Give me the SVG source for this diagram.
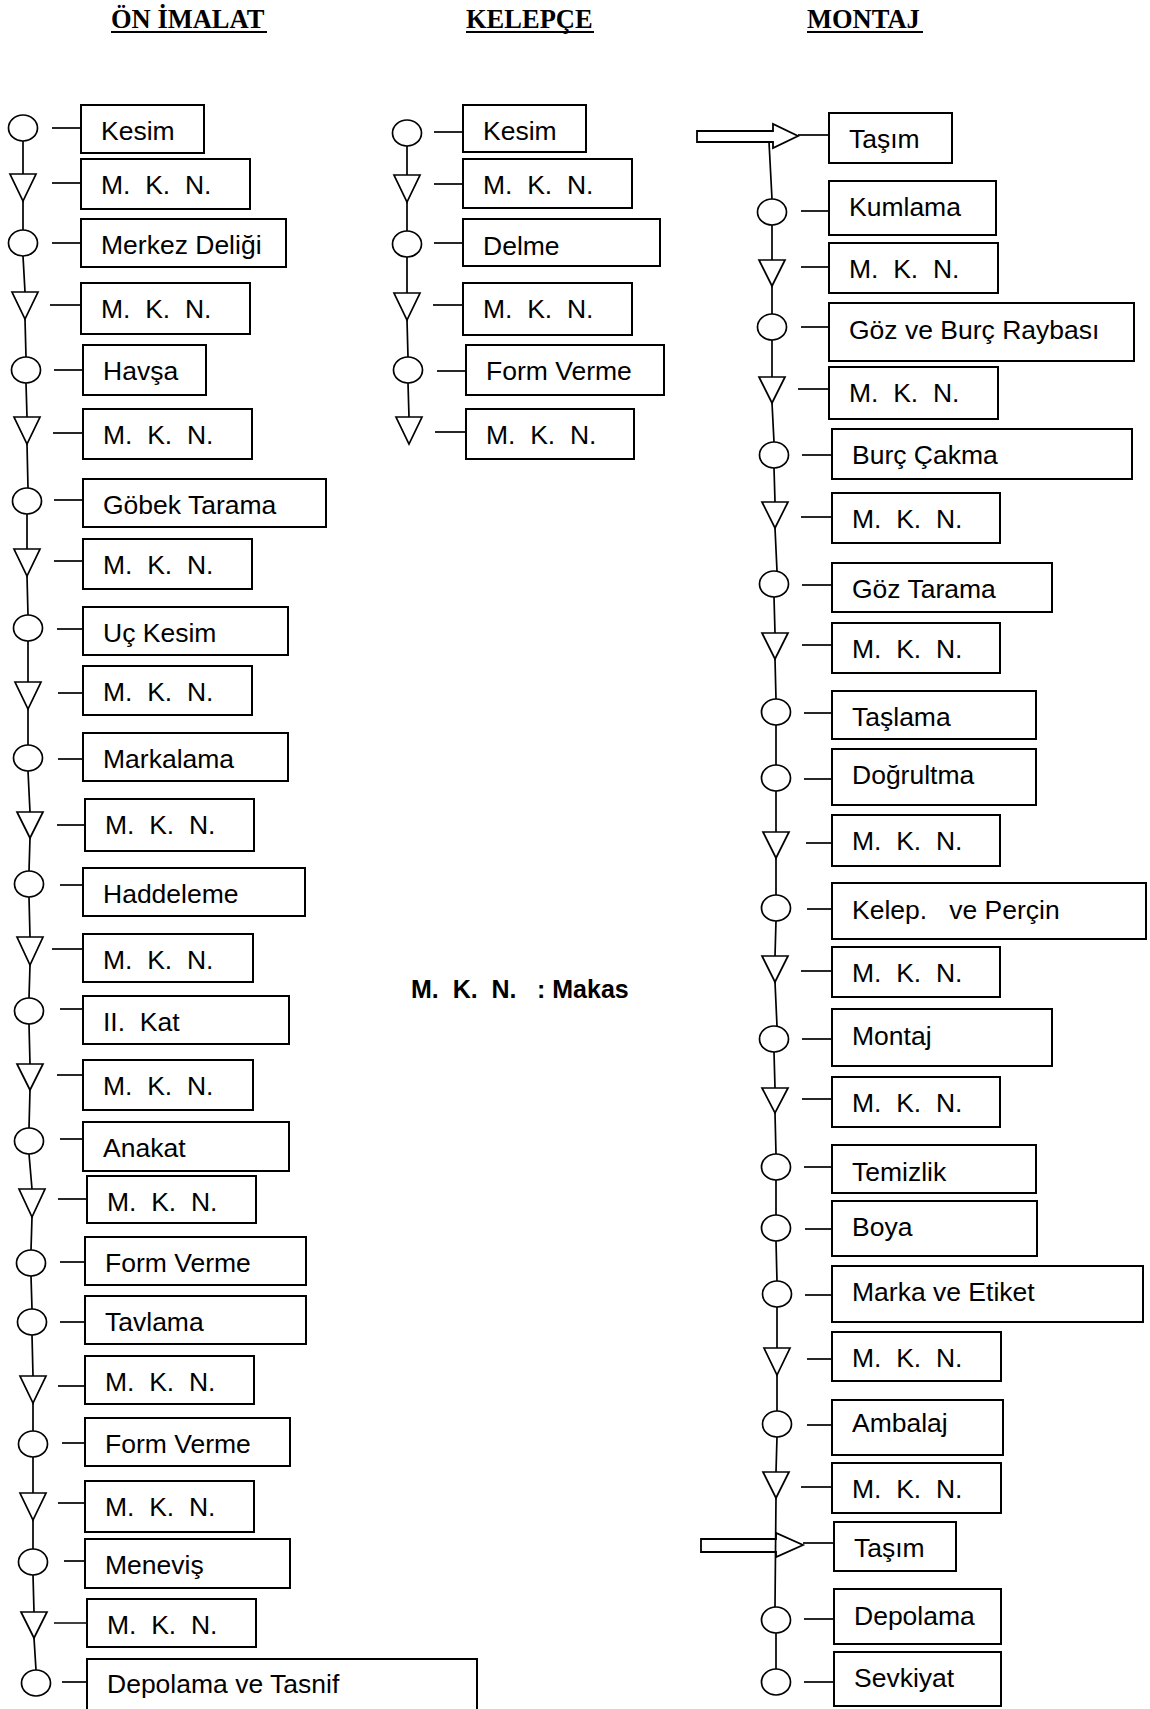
<svg xmlns="http://www.w3.org/2000/svg" width="1150" height="1709" viewBox="0 0 1150 1709">
  <style>
    .bg { fill: #ffffff; }
    .box { fill: #ffffff; stroke: #000000; stroke-width: 2; }
    .op { fill: #ffffff; stroke: #000000; stroke-width: 1.7; }
    .ln { fill: none; stroke: #000000; stroke-width: 1.7; }
    .arr { fill: none; stroke: #000000; stroke-width: 1.8; }
    .lbl { font-family: "Liberation Sans", Arial, sans-serif; font-size: 26.5px; fill: #000000; white-space: pre; }
    .head { font-family: "Liberation Serif", "Times New Roman", serif; font-size: 26.5px; font-weight: bold; fill: #000000; }
    .note { font-family: "Liberation Sans", Arial, sans-serif; font-size: 25px; font-weight: bold; fill: #000000; white-space: pre; }
    .ul { stroke: #000000; stroke-width: 2; }
  </style>
  <rect class="bg" x="0" y="0" width="1150" height="1709"/>

  <!-- column headings -->
  <g id="headings">
    <text class="head" x="111" y="28">ÖN İMALAT</text>
    <line class="ul" x1="111" y1="32" x2="267" y2="32"/>
    <text class="head" x="466" y="28">KELEPÇE</text>
    <line class="ul" x1="466" y1="32" x2="594" y2="32"/>
    <text class="head" x="807" y="28">MONTAJ</text>
    <line class="ul" x1="807" y1="32" x2="923" y2="32"/>
  </g>

  <!-- vertical flow lines -->
  <g id="connectors">
    <path class="ln" d="M23 141 L23 174 M23 201 L23 230 M23 256 L25 292 M25 319 L26 357 M26 383 L27 417 M27 444 L28 488 M27 514 L27 549 M27 576 L28 615 M28 641 L28 682 M28 709 L28 745 M28 771 L30 812 M30 838 L29 871 M29 897 L30 937 M30 965 L29 998 M29 1024 L30 1064 M30 1090 L29 1128 M29 1154 L32 1189 M32 1217 L31 1250 M31 1276 L32 1309 M32 1335 L33 1376 M33 1403 L33 1431 M33 1457 L33 1493 M33 1520 L33 1549 M33 1575 L34 1612 M34 1638 L36 1670"/>
    <path class="ln" d="M407 146 L407 175 M407 202 L407 231 M407 257 L407 293 M407 320 L408 357 M408 383 L409 417"/>
    <path class="ln" d="M769 142 L772 199 M772 225 L772 260 M772 286 L772 314 M772 340 L772 377 M772 403 L774 442 M774 468 L775 502 M775 528 L777 571 M774 597 L775 633 M775 659 L776 699 M776 725 L776 765 M776 791 L776 832 M776 858 L776 895 M776 921 L775 956 M775 982 L777 1026 M774 1052 L775 1088 M775 1113 L776 1154 M776 1180 L776 1215 M776 1241 L777 1281 M777 1307 L777 1348 M777 1375 L777 1411 M777 1437 L776 1472 M776 1498 L775 1607 M776 1633 L776 1669"/>
  </g>

  <!-- ÖN İMALAT -->
  <g id="on-kesim"><ellipse class="op" cx="23" cy="128" rx="14.5" ry="13"/><line class="ln" x1="52" y1="128" x2="81" y2="128"/><rect class="box" x="81" y="105" width="123" height="48"/><text class="lbl" x="101" y="140">Kesim</text></g>
  <g id="on-mkn-1"><polygon class="op" points="10,174 36,174 23,201"/><line class="ln" x1="52" y1="183" x2="81" y2="183"/><rect class="box" x="81" y="159" width="169" height="50"/><text class="lbl" x="101" y="194">M.  K.  N.</text></g>
  <g id="on-merkez"><ellipse class="op" cx="23" cy="243" rx="14.5" ry="13"/><line class="ln" x1="52" y1="243" x2="81" y2="243"/><rect class="box" x="81" y="219" width="205" height="48"/><text class="lbl" x="101" y="254">Merkez Deliği</text></g>
  <g id="on-mkn-2"><polygon class="op" points="12,292 38,292 25,319"/><line class="ln" x1="50" y1="305" x2="81" y2="305"/><rect class="box" x="81" y="283" width="169" height="51"/><text class="lbl" x="101" y="318">M.  K.  N.</text></g>
  <g id="on-havsa"><ellipse class="op" cx="26" cy="370" rx="14.5" ry="13"/><line class="ln" x1="54" y1="370" x2="83" y2="370"/><rect class="box" x="83" y="345" width="123" height="50"/><text class="lbl" x="103" y="380">Havşa</text></g>
  <g id="on-mkn-3"><polygon class="op" points="14,417 40,417 27,444"/><line class="ln" x1="53" y1="433" x2="83" y2="433"/><rect class="box" x="83" y="409" width="169" height="50"/><text class="lbl" x="103" y="444">M.  K.  N.</text></g>
  <g id="on-gobek"><ellipse class="op" cx="27" cy="501" rx="14.5" ry="13"/><line class="ln" x1="54" y1="500" x2="83" y2="500"/><rect class="box" x="83" y="479" width="243" height="48"/><text class="lbl" x="103" y="514">Göbek Tarama</text></g>
  <g id="on-mkn-4"><polygon class="op" points="14,549 40,549 27,576"/><line class="ln" x1="54" y1="561" x2="83" y2="561"/><rect class="box" x="83" y="539" width="169" height="50"/><text class="lbl" x="103" y="574">M.  K.  N.</text></g>
  <g id="on-uc-kesim"><ellipse class="op" cx="28" cy="628" rx="14.5" ry="13"/><line class="ln" x1="57" y1="629" x2="83" y2="629"/><rect class="box" x="83" y="607" width="205" height="48"/><text class="lbl" x="103" y="642">Uç Kesim</text></g>
  <g id="on-mkn-5"><polygon class="op" points="15,682 41,682 28,709"/><line class="ln" x1="58" y1="693" x2="83" y2="693"/><rect class="box" x="83" y="666" width="169" height="49"/><text class="lbl" x="103" y="701">M.  K.  N.</text></g>
  <g id="on-markalama"><ellipse class="op" cx="28" cy="758" rx="14.5" ry="13"/><line class="ln" x1="58" y1="759" x2="83" y2="759"/><rect class="box" x="83" y="733" width="205" height="48"/><text class="lbl" x="103" y="768">Markalama</text></g>
  <g id="on-mkn-6"><polygon class="op" points="17,812 43,812 30,838"/><line class="ln" x1="57" y1="825" x2="85" y2="825"/><rect class="box" x="85" y="799" width="169" height="52"/><text class="lbl" x="105" y="834">M.  K.  N.</text></g>
  <g id="on-haddeleme"><ellipse class="op" cx="29" cy="884" rx="14.5" ry="13"/><line class="ln" x1="60" y1="885" x2="83" y2="885"/><rect class="box" x="83" y="868" width="222" height="48"/><text class="lbl" x="103" y="903">Haddeleme</text></g>
  <g id="on-mkn-7"><polygon class="op" points="17,937 43,937 30,965"/><line class="ln" x1="52" y1="949" x2="83" y2="949"/><rect class="box" x="83" y="934" width="170" height="48"/><text class="lbl" x="103" y="969">M.  K.  N.</text></g>
  <g id="on-ii-kat"><ellipse class="op" cx="29" cy="1011" rx="14.5" ry="13"/><line class="ln" x1="60" y1="1009" x2="83" y2="1009"/><rect class="box" x="83" y="996" width="206" height="48"/><text class="lbl" x="103" y="1031">II.  Kat</text></g>
  <g id="on-mkn-8"><polygon class="op" points="17,1064 43,1064 30,1090"/><line class="ln" x1="57" y1="1075" x2="83" y2="1075"/><rect class="box" x="83" y="1060" width="170" height="50"/><text class="lbl" x="103" y="1095">M.  K.  N.</text></g>
  <g id="on-anakat"><ellipse class="op" cx="29" cy="1141" rx="14.5" ry="13"/><line class="ln" x1="60" y1="1139" x2="83" y2="1139"/><rect class="box" x="83" y="1122" width="206" height="49"/><text class="lbl" x="103" y="1157">Anakat</text></g>
  <g id="on-mkn-9"><polygon class="op" points="19,1189 45,1189 32,1217"/><line class="ln" x1="58" y1="1199" x2="87" y2="1199"/><rect class="box" x="87" y="1176" width="169" height="47"/><text class="lbl" x="107" y="1211">M.  K.  N.</text></g>
  <g id="on-form-1"><ellipse class="op" cx="31" cy="1263" rx="14.5" ry="13"/><line class="ln" x1="60" y1="1262" x2="85" y2="1262"/><rect class="box" x="85" y="1237" width="221" height="48"/><text class="lbl" x="105" y="1272">Form Verme</text></g>
  <g id="on-tavlama"><ellipse class="op" cx="32" cy="1322" rx="14.5" ry="13"/><line class="ln" x1="60" y1="1322" x2="85" y2="1322"/><rect class="box" x="85" y="1296" width="221" height="48"/><text class="lbl" x="105" y="1331">Tavlama</text></g>
  <g id="on-mkn-10"><polygon class="op" points="20,1376 46,1376 33,1403"/><line class="ln" x1="58" y1="1386" x2="85" y2="1386"/><rect class="box" x="85" y="1356" width="169" height="48"/><text class="lbl" x="105" y="1391">M.  K.  N.</text></g>
  <g id="on-form-2"><ellipse class="op" cx="33" cy="1444" rx="14.5" ry="13"/><line class="ln" x1="62" y1="1443" x2="85" y2="1443"/><rect class="box" x="85" y="1418" width="205" height="48"/><text class="lbl" x="105" y="1453">Form Verme</text></g>
  <g id="on-mkn-11"><polygon class="op" points="20,1493 46,1493 33,1520"/><line class="ln" x1="58" y1="1503" x2="85" y2="1503"/><rect class="box" x="85" y="1481" width="169" height="51"/><text class="lbl" x="105" y="1516">M.  K.  N.</text></g>
  <g id="on-menevis"><ellipse class="op" cx="33" cy="1562" rx="14.5" ry="13"/><line class="ln" x1="64" y1="1561" x2="85" y2="1561"/><rect class="box" x="85" y="1539" width="205" height="49"/><text class="lbl" x="105" y="1574">Meneviş</text></g>
  <g id="on-mkn-12"><polygon class="op" points="21,1612 47,1612 34,1638"/><line class="ln" x1="54" y1="1623" x2="87" y2="1623"/><rect class="box" x="87" y="1599" width="169" height="48"/><text class="lbl" x="107" y="1634">M.  K.  N.</text></g>
  <g id="on-depolama"><ellipse class="op" cx="36" cy="1683" rx="14.5" ry="13"/><line class="ln" x1="62" y1="1682" x2="87" y2="1682"/><rect class="box" x="87" y="1659" width="390" height="62"/><text class="lbl" x="107" y="1693">Depolama ve Tasnif</text></g>

  <!-- KELEPÇE -->
  <g id="kl-kesim"><ellipse class="op" cx="407" cy="133" rx="14.5" ry="13"/><line class="ln" x1="434" y1="132" x2="463" y2="132"/><rect class="box" x="463" y="105" width="123" height="47"/><text class="lbl" x="483" y="140">Kesim</text></g>
  <g id="kl-mkn-1"><polygon class="op" points="394,175 420,175 407,202"/><line class="ln" x1="434" y1="184" x2="463" y2="184"/><rect class="box" x="463" y="159" width="169" height="49"/><text class="lbl" x="483" y="194">M.  K.  N.</text></g>
  <g id="kl-delme"><ellipse class="op" cx="407" cy="244" rx="14.5" ry="13"/><line class="ln" x1="434" y1="243" x2="463" y2="243"/><rect class="box" x="463" y="219" width="197" height="47"/><text class="lbl" x="483" y="255">Delme</text></g>
  <g id="kl-mkn-2"><polygon class="op" points="394,293 420,293 407,320"/><line class="ln" x1="433" y1="305" x2="463" y2="305"/><rect class="box" x="463" y="283" width="169" height="52"/><text class="lbl" x="483" y="318">M.  K.  N.</text></g>
  <g id="kl-form"><ellipse class="op" cx="408" cy="370" rx="14.5" ry="13"/><line class="ln" x1="437" y1="371" x2="466" y2="371"/><rect class="box" x="466" y="345" width="198" height="50"/><text class="lbl" x="486" y="380">Form Verme</text></g>
  <g id="kl-mkn-3"><polygon class="op" points="396,417 422,417 409,444"/><line class="ln" x1="435" y1="432" x2="466" y2="432"/><rect class="box" x="466" y="409" width="168" height="50"/><text class="lbl" x="486" y="444">M.  K.  N.</text></g>

  <!-- legend -->
  <g id="legend"><text class="note" x="411" y="998">M.  K.  N.<tspan x="537">: Makas</tspan></text></g>

  <!-- MONTAJ -->
  <g id="mt-tasim-1"><polygon class="arr" points="697,131 773,131 773,124 798,136 773,148 773,142 697,142"/><line class="ln" x1="798" y1="135" x2="829" y2="135"/><rect class="box" x="829" y="113" width="123" height="50"/><text class="lbl" x="849" y="148">Taşım</text></g>
  <g id="mt-kumlama"><ellipse class="op" cx="772" cy="212" rx="14.5" ry="13"/><line class="ln" x1="801" y1="211" x2="829" y2="211"/><rect class="box" x="829" y="181" width="167" height="54"/><text class="lbl" x="849" y="216">Kumlama</text></g>
  <g id="mt-mkn-1"><polygon class="op" points="759,260 785,260 772,286"/><line class="ln" x1="801" y1="267" x2="829" y2="267"/><rect class="box" x="829" y="243" width="169" height="50"/><text class="lbl" x="849" y="278">M.  K.  N.</text></g>
  <g id="mt-goz-burc"><ellipse class="op" cx="772" cy="327" rx="14.5" ry="13"/><line class="ln" x1="801" y1="327" x2="829" y2="327"/><rect class="box" x="829" y="303" width="305" height="58"/><text class="lbl" x="849" y="339">Göz ve Burç Raybası</text></g>
  <g id="mt-mkn-2"><polygon class="op" points="759,377 785,377 772,403"/><line class="ln" x1="798" y1="389" x2="829" y2="389"/><rect class="box" x="829" y="367" width="169" height="52"/><text class="lbl" x="849" y="402">M.  K.  N.</text></g>
  <g id="mt-burc-cakma"><ellipse class="op" cx="774" cy="455" rx="14.5" ry="13"/><line class="ln" x1="802" y1="455" x2="832" y2="455"/><rect class="box" x="832" y="429" width="300" height="50"/><text class="lbl" x="852" y="464">Burç Çakma</text></g>
  <g id="mt-mkn-3"><polygon class="op" points="762,502 788,502 775,528"/><line class="ln" x1="801" y1="517" x2="832" y2="517"/><rect class="box" x="832" y="493" width="168" height="50"/><text class="lbl" x="852" y="528">M.  K.  N.</text></g>
  <g id="mt-goz-tarama"><ellipse class="op" cx="774" cy="584" rx="14.5" ry="13"/><line class="ln" x1="802" y1="585" x2="832" y2="585"/><rect class="box" x="832" y="563" width="220" height="49"/><text class="lbl" x="852" y="598">Göz Tarama</text></g>
  <g id="mt-mkn-4"><polygon class="op" points="762,633 788,633 775,659"/><line class="ln" x1="802" y1="645" x2="832" y2="645"/><rect class="box" x="832" y="623" width="168" height="50"/><text class="lbl" x="852" y="658">M.  K.  N.</text></g>
  <g id="mt-taslama"><ellipse class="op" cx="776" cy="712" rx="14.5" ry="13"/><line class="ln" x1="804" y1="713" x2="832" y2="713"/><rect class="box" x="832" y="691" width="204" height="48"/><text class="lbl" x="852" y="726">Taşlama</text></g>
  <g id="mt-dogrultma"><ellipse class="op" cx="776" cy="778" rx="14.5" ry="13"/><line class="ln" x1="804" y1="779" x2="832" y2="779"/><rect class="box" x="832" y="749" width="204" height="56"/><text class="lbl" x="852" y="784">Doğrultma</text></g>
  <g id="mt-mkn-5"><polygon class="op" points="763,832 789,832 776,858"/><line class="ln" x1="806" y1="843" x2="832" y2="843"/><rect class="box" x="832" y="815" width="168" height="51"/><text class="lbl" x="852" y="850">M.  K.  N.</text></g>
  <g id="mt-kelep"><ellipse class="op" cx="776" cy="908" rx="14.5" ry="13"/><line class="ln" x1="807" y1="909" x2="832" y2="909"/><rect class="box" x="832" y="883" width="314" height="56"/><text class="lbl" x="852" y="919">Kelep.   ve Perçin</text></g>
  <g id="mt-mkn-6"><polygon class="op" points="762,956 788,956 775,982"/><line class="ln" x1="801" y1="971" x2="832" y2="971"/><rect class="box" x="832" y="947" width="168" height="50"/><text class="lbl" x="852" y="982">M.  K.  N.</text></g>
  <g id="mt-montaj"><ellipse class="op" cx="774" cy="1039" rx="14.5" ry="13"/><line class="ln" x1="802" y1="1039" x2="832" y2="1039"/><rect class="box" x="832" y="1009" width="220" height="57"/><text class="lbl" x="852" y="1045">Montaj</text></g>
  <g id="mt-mkn-7"><polygon class="op" points="762,1088 788,1088 775,1113"/><line class="ln" x1="802" y1="1099" x2="832" y2="1099"/><rect class="box" x="832" y="1077" width="168" height="50"/><text class="lbl" x="852" y="1112">M.  K.  N.</text></g>
  <g id="mt-temizlik"><ellipse class="op" cx="776" cy="1167" rx="14.5" ry="13"/><line class="ln" x1="804" y1="1167" x2="832" y2="1167"/><rect class="box" x="832" y="1145" width="204" height="48"/><text class="lbl" x="852" y="1181">Temizlik</text></g>
  <g id="mt-boya"><ellipse class="op" cx="776" cy="1228" rx="14.5" ry="13"/><line class="ln" x1="805" y1="1229" x2="832" y2="1229"/><rect class="box" x="832" y="1201" width="205" height="55"/><text class="lbl" x="852" y="1236">Boya</text></g>
  <g id="mt-marka"><ellipse class="op" cx="777" cy="1294" rx="14.5" ry="13"/><line class="ln" x1="805" y1="1295" x2="832" y2="1295"/><rect class="box" x="832" y="1266" width="311" height="56"/><text class="lbl" x="852" y="1301">Marka ve Etiket</text></g>
  <g id="mt-mkn-8"><polygon class="op" points="764,1348 790,1348 777,1375"/><line class="ln" x1="807" y1="1359" x2="832" y2="1359"/><rect class="box" x="832" y="1332" width="169" height="49"/><text class="lbl" x="852" y="1367">M.  K.  N.</text></g>
  <g id="mt-ambalaj"><ellipse class="op" cx="777" cy="1424" rx="14.5" ry="13"/><line class="ln" x1="807" y1="1425" x2="832" y2="1425"/><rect class="box" x="832" y="1400" width="171" height="55"/><text class="lbl" x="852" y="1432">Ambalaj</text></g>
  <g id="mt-mkn-9"><polygon class="op" points="763,1472 789,1472 776,1498"/><line class="ln" x1="801" y1="1487" x2="832" y2="1487"/><rect class="box" x="832" y="1463" width="169" height="50"/><text class="lbl" x="852" y="1498">M.  K.  N.</text></g>
  <g id="mt-tasim-2"><polygon class="arr" points="701,1539 776,1539 776,1533 803,1545 776,1557 776,1552 701,1552"/><line class="ln" x1="803" y1="1543" x2="834" y2="1543"/><rect class="box" x="834" y="1522" width="122" height="49"/><text class="lbl" x="854" y="1557">Taşım</text></g>
  <g id="mt-depolama"><ellipse class="op" cx="776" cy="1620" rx="14.5" ry="13"/><line class="ln" x1="804" y1="1619" x2="834" y2="1619"/><rect class="box" x="834" y="1589" width="167" height="55"/><text class="lbl" x="854" y="1625">Depolama</text></g>
  <g id="mt-sevkiyat"><ellipse class="op" cx="776" cy="1682" rx="14.5" ry="13"/><line class="ln" x1="804" y1="1682" x2="834" y2="1682"/><rect class="box" x="834" y="1652" width="167" height="54"/><text class="lbl" x="854" y="1687">Sevkiyat</text></g>
</svg>
